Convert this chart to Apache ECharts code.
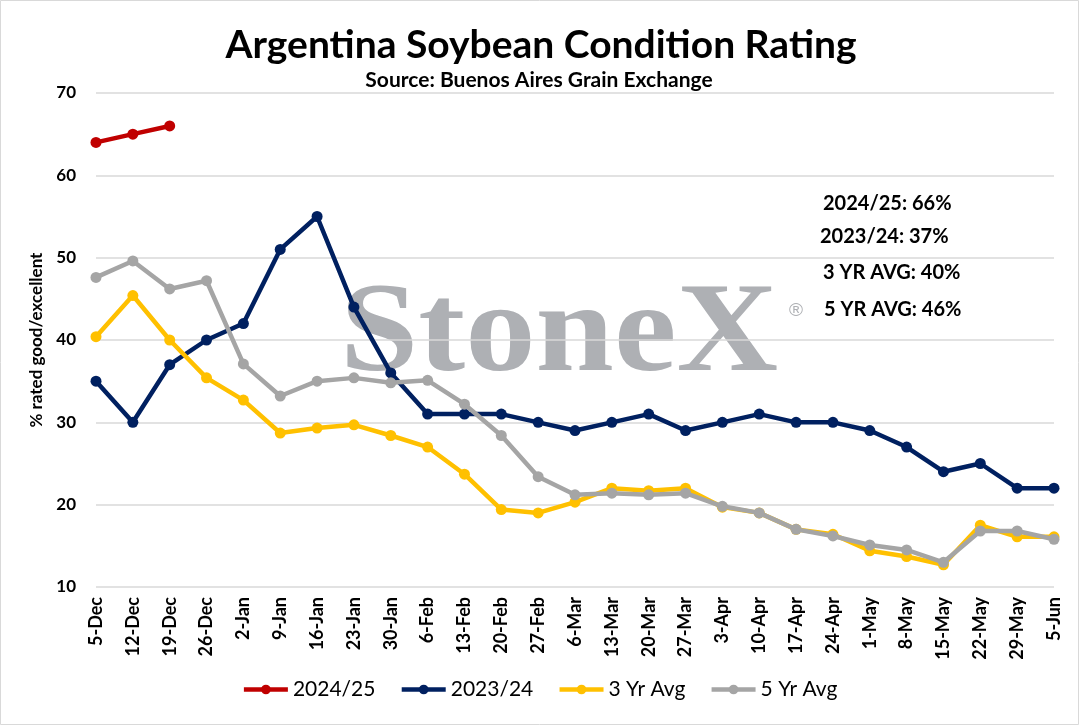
<!DOCTYPE html>
<html>
<head>
<meta charset="utf-8">
<script src="https://cdn.jsdelivr.net/npm/echarts@6/dist/echarts.min.js"></script>
<style>
html,body{margin:0;padding:0;background:#fff;}
#chart{width:1079px;height:725px;}
</style>
</head>
<body>
<div id="chart"></div>
<script>
const categories = ['5-Dec','12-Dec','19-Dec','26-Dec','2-Jan','9-Jan','16-Jan','23-Jan','30-Jan','6-Feb','13-Feb','20-Feb','27-Feb','6-Mar','13-Mar','20-Mar','27-Mar','3-Apr','10-Apr','17-Apr','24-Apr','1-May','8-May','15-May','22-May','29-May','5-Jun'];
const s2024 = [64, 65, 66];
const s2023 = [35, 30, 37, 40, 42, 51, 55, 44, 36, 31, 31, 31, 30, 29, 30, 31, 29, 30, 31, 30, 30, 29, 27, 24, 25, 22, 22];
const avg3 = [40.4, 45.4, 40, 35.4, 32.7, 28.7, 29.3, 29.7, 28.4, 27, 23.7, 19.4, 19, 20.3, 22, 21.7, 22, 19.7, 19, 17, 16.4, 14.4, 13.7, 12.7, 17.5, 16.1, 16.1];
const avg5 = [47.6, 49.6, 46.2, 47.2, 37.1, 33.2, 35, 35.4, 34.8, 35.1, 32.2, 28.4, 23.4, 21.2, 21.4, 21.2, 21.4, 19.8, 19, 17, 16.2, 15.1, 14.5, 13, 16.8, 16.8, 15.8];
const seriesNames = ['2024/25', '2023/24', '3 Yr Avg', '5 Yr Avg'];
const seriesColors = ['#C00000', '#002060', '#FFC000', '#A5A5A5'];
const yTicks = {min: 10, max: 70, interval: 10};
const titleText = 'Argentina Soybean Condition Rating';
const subtitleText = 'Source: Buenos Aires Grain Exchange';
const notes = ['2024/25: 66%', '2023/24: 37%', '3 YR AVG: 40%', '5 YR AVG: 46%'];

const FONT = 'Lato, "Open Sans", sans-serif';
const chart = echarts.init(document.getElementById('chart'));
const dataSets = [s2024, s2023, avg3, avg5];

const option = {
  animation: false,
  backgroundColor: '#ffffff',
  textStyle: {fontFamily: FONT},
  grid: {left: 96, right: 25, top: 93, bottom: 138},
  legend: {
    bottom: 20,
    left: 'center',
    itemWidth: 44,
    itemHeight: 12,
    itemGap: 24,
    lineStyle: {width: 4.5},
    textStyle: {fontSize: 21, color: '#000', fontFamily: FONT},
    data: seriesNames
  },
  xAxis: {
    type: 'category',
    data: categories,
    boundaryGap: false,
    axisLine: {show: false},
    axisTick: {show: false},
    axisLabel: {rotate: 90, fontSize: 18, fontWeight: 'bold', color: '#000', margin: 10, interval: 0, fontFamily: FONT}
  },
  yAxis: {
    type: 'value',
    min: yTicks.min, max: yTicks.max, interval: yTicks.interval,
    name: '% rated good/excellent',
    nameLocation: 'middle',
    nameGap: 50,
    nameTextStyle: {fontSize: 17, fontWeight: 'bold', color: '#000', fontFamily: FONT},
    axisLine: {show: false},
    axisTick: {show: false},
    axisLabel: {fontSize: 17, fontWeight: 'bold', color: '#000', margin: 20, fontFamily: FONT},
    splitLine: {lineStyle: {color: '#d9d9d9', width: 1.5}}
  },
  graphic: [
    {type: 'rect', z: -20, shape: {x: 0.5, y: 0.5, width: 1078, height: 724}, style: {fill: 'none', stroke: '#d9d9d9', lineWidth: 1}},
    {type: 'text', z: -10, x: 340, y: 337, scaleX: 1.1, style: {text: 'StoneX', font: 'bold 128px "Liberation Serif", serif', fill: '#aeb0b4', verticalAlign: 'middle', align: 'left'}},
    {type: 'text', z: -10, x: 789, y: 311, style: {text: '®', font: '19px "Liberation Sans", sans-serif', fill: '#aeb0b4', verticalAlign: 'middle'}},
    {type: 'text', x: 541, y: 45, style: {text: titleText, font: 'bold 39px ' + FONT, fill: '#000', align: 'center', verticalAlign: 'middle'}},
    {type: 'text', x: 539, y: 80, style: {text: subtitleText, font: 'bold 21px ' + FONT, fill: '#000', align: 'center', verticalAlign: 'middle'}},
    {type: 'text', x: 823, y: 204, style: {text: notes[0], font: 'bold 20px ' + FONT, fill: '#000', verticalAlign: 'middle'}},
    {type: 'text', x: 820, y: 237, style: {text: notes[1], font: 'bold 20px ' + FONT, fill: '#000', verticalAlign: 'middle'}},
    {type: 'text', x: 823, y: 273, style: {text: notes[2], font: 'bold 20px ' + FONT, fill: '#000', verticalAlign: 'middle'}},
    {type: 'text', x: 824, y: 310, style: {text: notes[3], font: 'bold 20px ' + FONT, fill: '#000', verticalAlign: 'middle'}}
  ],
  series: seriesNames.map((n, i) => ({
    name: n,
    type: 'line',
    data: dataSets[i],
    symbol: 'circle',
    symbolSize: 11,
    color: seriesColors[i],
    lineStyle: {width: 4.5, color: seriesColors[i]},
    itemStyle: {color: seriesColors[i]},
    z: 2 + i
  }))
};
chart.setOption(option);
</script>
</body>
</html>
